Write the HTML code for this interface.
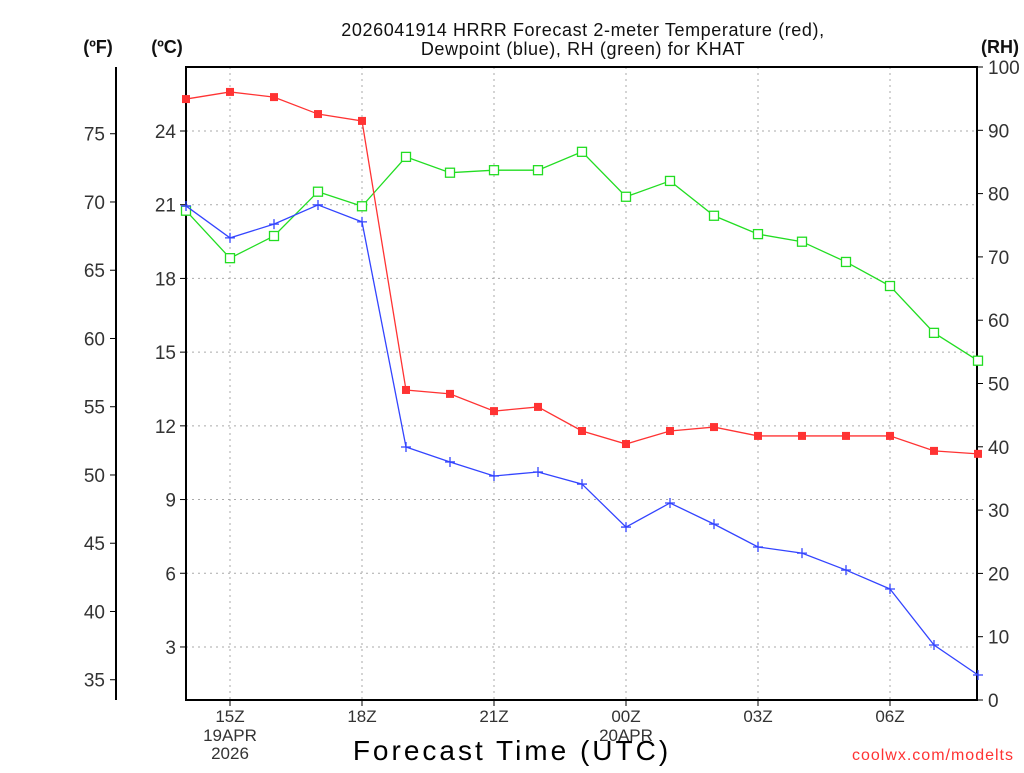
<!DOCTYPE html>
<html><head><meta charset="utf-8"><style>
body{margin:0;background:#fff}
svg text{font-family:"Liberation Sans",sans-serif}
</style></head><body>
<svg id="c" width="1024" height="768" xmlns="http://www.w3.org/2000/svg"></svg>
<script>
const hours=[0,1,2,3,4,5,6,7,8,9,10,11,12,13,14,15,16,17,18];
const tempC=[25.30,25.59,25.38,24.69,24.41,13.46,13.30,12.60,12.77,11.79,11.26,11.79,11.95,11.59,11.59,11.59,11.59,10.98,10.86];
const dewC=[20.95,19.65,20.21,20.99,20.30,11.14,10.53,9.96,10.12,9.63,7.88,8.86,8.00,7.07,6.82,6.13,5.36,3.08,1.86];
const rh=[77.3,69.8,73.3,80.3,78.0,85.8,83.3,83.7,83.7,86.6,79.5,82.0,76.5,73.6,72.4,69.2,65.4,58.0,53.6];
const cTicks=[3,6,9,12,15,18,21,24];
const fTicks=[35,40,45,50,55,60,65,70,75];
const rhTicks=[0,10,20,30,40,50,60,70,80,90,100];
const xTickHours=[1,4,7,10,13,16];
const xTickLabels=["15Z","18Z","21Z","00Z","03Z","06Z"];
const L=186,R=977,T=67,B=700;
const xs=h=>L+h*44;
const yC=c=>131+(24-c)*24.57;
const yF=f=>yC((f-32)*5/9);
const yRH=r=>B-r*(B-T)/100;
const s=document.getElementById('c');const NS="http://www.w3.org/2000/svg";
function el(t,a,txt){const e=document.createElementNS(NS,t);for(const k in a)e.setAttribute(k,a[k]);if(txt!=null)e.textContent=txt;s.appendChild(e);return e;}
cTicks.forEach(c=>{const e=el('line',{x1:L,x2:R,y1:yC(c),y2:yC(c),stroke:'#aaa','stroke-dasharray':'2,4'});

});
xTickHours.forEach(h=>{const e=el('line',{x1:xs(h),x2:xs(h),y1:T,y2:B,stroke:'#aaa','stroke-dasharray':'2,4'});

});
const bx=el('rect',{x:L,y:T,width:R-L,height:B-T,fill:'none',stroke:'#000','stroke-width':2});


cTicks.forEach(c=>{el('line',{x1:L-6,x2:L,y1:yC(c),y2:yC(c),stroke:'#000'});
const t=el('text',{x:L-10,y:yC(c)+7,'font-size':19,'text-anchor':'end',fill:'#333'},c);

});
el('line',{x1:116,x2:116,y1:67,y2:700,stroke:'#000','stroke-width':2});
fTicks.forEach(f=>{el('line',{x1:110,x2:116,y1:yF(f),y2:yF(f),stroke:'#000'});
const t=el('text',{x:105,y:yF(f)+7,'font-size':19,'text-anchor':'end',fill:'#333'},f);

});
rhTicks.forEach(r=>{el('line',{x1:R,x2:R+6,y1:yRH(r),y2:yRH(r),stroke:'#000'});
const t=el('text',{x:R+11,y:yRH(r)+7,'font-size':19,fill:'#333'},r);

});
xTickHours.forEach((h,i)=>{el('line',{x1:xs(h),x2:xs(h),y1:B,y2:B+6,stroke:'#000'});
const t=el('text',{x:xs(h),y:722,'font-size':17,'text-anchor':'middle',fill:'#333'},xTickLabels[i]);

});
[[230,741,"19APR"],[230,759,"2026"],[626,741,"20APR"]].forEach(d=>{const t=el('text',{x:d[0],y:d[1],'font-size':17,'text-anchor':'middle',fill:'#333'},d[2]);

});
function series(vals,yf,col,name,marker){
const pts=vals.map((v,i)=>xs(hours[i])+','+yf(v)).join(' ');
const p=el('polyline',{points:pts,fill:'none',stroke:col,'stroke-width':1.3});


vals.forEach((v,i)=>{const x=xs(hours[i]),y=yf(v);let m;
if(marker==='fill')m=el('rect',{x:x-4,y:y-4,width:8,height:8,fill:col});
else if(marker==='open')m=el('rect',{x:x-4.5,y:y-4.5,width:9,height:9,fill:'#fff',stroke:col,'stroke-width':1.3});
else m=el('path',{d:`M${x-5},${y}H${x+5}M${x},${y-5}V${y+5}`,stroke:col,'stroke-width':1.3});

});}
series(rh,yRH,'#22dd22','rh','open');
series(dewC,yC,'#3344ff','dewpoint','plus');
series(tempC,yC,'#ff3333','temperature','fill');
const tt=[[583,36,"2026041914 HRRR Forecast 2-meter Temperature (red),"],[583,55,"Dewpoint (blue), RH (green) for KHAT"]];
tt.forEach(d=>{const t=el('text',{x:d[0],y:d[1],'font-size':18,'text-anchor':'middle',fill:'#111','letter-spacing':'0.6'},d[2]);

});
[[98,53,"(ºF)"],[167,53,"(ºC)"],[1000,53,"(RH)"]].forEach(d=>{const t=el('text',{x:d[0],y:d[1],'font-size':18,'font-weight':'bold','text-anchor':'middle',fill:'#111'},d[2]);

});
const xt=el('text',{x:512,y:760,'font-size':28,'text-anchor':'middle',fill:'#000','letter-spacing':'3'},"Forecast Time (UTC)");


const cr=el('text',{x:1014,y:760,'font-size':16,'text-anchor':'end',fill:'#ff3333','letter-spacing':'1'},"coolwx.com/modelts");


</script>
</body></html>
